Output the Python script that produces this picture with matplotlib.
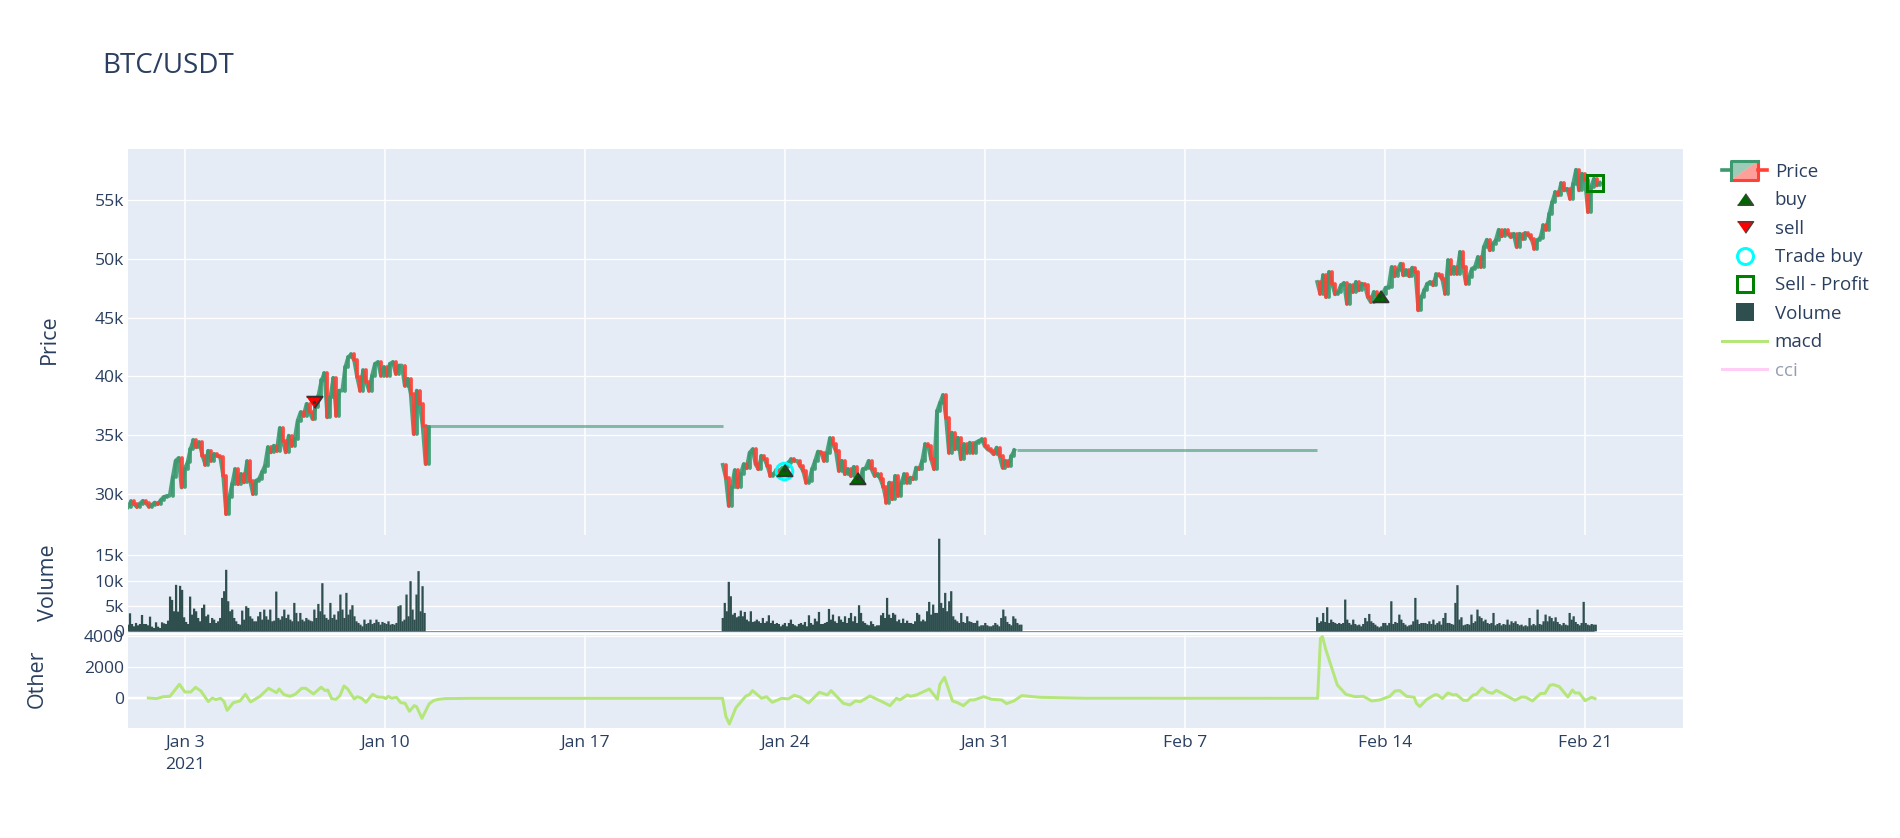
import numpy as np
import pandas as pd
import matplotlib
matplotlib.use("Agg")
import matplotlib.pyplot as plt
from matplotlib.legend_handler import HandlerBase
from matplotlib.lines import Line2D
from matplotlib.patches import Patch, Polygon

plt.rcParams['font.family'] = ['Open Sans', 'DejaVu Sans']

# closing prices, one every 2.5 hours
close_a = [28900, 29380, 29150, 28920, 29200, 29430, 29260, 28950, 29090, 29290, 29150, 29490, 29770, 29830, 29860,
           31420, 32840, 33070, 30570, 32130, 32700, 33830, 34600, 33980, 34400, 33270, 32500, 33690, 32840, 33410,
           33270, 33120, 31560, 28300, 29720, 30850, 32130, 30850, 31700, 31000, 32780, 31140, 30000, 31140, 31280,
           31850, 32410, 33980, 33550, 34120, 33690, 35620, 34540, 33550, 34970, 34120, 34690, 36250, 36960, 36670,
           37670, 36960, 36390, 37380, 38380, 39660, 40280, 36530, 38240, 39880, 36670, 38800, 38800, 40790, 41640,
           41870, 41360, 39940, 38800, 40510, 39510, 38800, 40080, 41080, 41220, 40080, 40790, 40080, 41080, 41220,
           40220, 40930, 40930, 39230, 39800, 38520, 35110, 38800, 37670, 35820, 32560, 35680]
close_b = [32490, 31410, 29010, 30570, 32030, 30570, 31700, 32540, 32200, 33530, 33810, 32540, 32120, 33250, 32970,
           32400, 31550, 31700, 32030, 31980, 32200, 32320, 32680, 32970, 32830, 32830, 32400, 31980, 30990, 31130,
           32120, 32830, 33620, 33530, 32830, 33530, 34750, 34240, 33670, 31980, 32830, 31700, 32120, 31550, 32320,
           30990, 30990, 32120, 32200, 32830, 32120, 31550, 31700, 31270, 30570, 29290, 30990, 29580, 31550, 29860,
           30990, 31700, 30990, 31410, 31270, 32260, 32120, 32830, 34240, 34100, 32970, 32120, 37060, 37770, 38420,
           36500, 33530, 35230, 33810, 34800, 32970, 34240, 33530, 34380, 33530, 34380, 34520, 34660, 34100, 33810,
           33670, 33390, 33960, 33250, 32260, 32830, 32400, 33250, 33730]
close_c = [48030, 47040, 48590, 46750, 48880, 47890, 46980, 47180, 47750, 47940, 46190, 47750, 47180, 48030, 47320,
           47890, 47750, 46750, 46330, 47180, 46900, 46750, 47040, 47550, 47600, 49300, 48510, 49020, 49580, 48590,
           49020, 48510, 49250, 48880, 45620, 46750, 47320, 47890, 48030, 47750, 48680, 48590, 48310, 47040, 49870,
           48740, 49300, 48740, 50580, 49300, 47890, 48450, 49160, 49300, 50150, 49300, 51000, 51620, 50720, 51280,
           51570, 52470, 51910, 52410, 52130, 51850, 52130, 51000, 52130, 51710, 52190, 51990, 51710, 50860, 51570,
           51790, 52840, 52470, 53830, 54820, 55670, 55390, 56430, 55810, 55950, 55100, 56380, 57570, 55810, 57230,
           56660, 53970, 56090, 56800, 56230, 56460]
start_a, start_b, start_c = '2021-01-01 00:00', '2021-01-21 19:40', '2021-02-11 15:00'
flat_a, flat_a_from, flat_a_to = 35750, '2021-01-11 08:30', '2021-01-21 19:40'
flat_b, flat_b_from, flat_b_to = 33730, '2021-02-01 02:30', '2021-02-11 15:00'

# volume, one bar every 101 minutes
vol_a = [1320, 3560, 1450, 990, 1650, 1190, 1450, 3230, 1450, 1450, 1190, 2900, 920, 660, 1780, 920, 660, 1780, 1580,
         1450, 2110, 6860, 6200, 3960, 9170, 3890, 8980, 8180, 2770, 1850, 1450, 6860, 3300, 4490, 3960, 2640, 1980,
         4620, 5280, 2970, 3300, 1650, 2640, 2310, 1650, 1980, 2640, 6600, 7920, 12140, 5940, 3960, 4290, 2640, 1980,
         1450, 1320, 4090, 2310, 4950, 4620, 2970, 2510, 1980, 1980, 2970, 3830, 2310, 4290, 2970, 2310, 4290, 1980,
         2110, 7850, 2640, 2310, 2970, 4290, 2640, 3300, 2310, 1980, 5610, 3630, 1980, 3630, 2310, 1980, 2640, 2310,
         2110, 1980, 4290, 2640, 5410, 3960, 9500, 3300, 2640, 2310, 5610, 2640, 3300, 2310, 3960, 7260, 4290, 2640,
         7590, 3300, 4290, 5150, 2970, 1980, 1650, 1320, 990, 2310, 1450, 1650, 2310, 1450, 1650, 2310, 1850, 1320,
         1850, 1650, 1450, 1980, 1320, 1450, 1320, 1650, 4950, 5150, 1980, 2310, 7260, 2970, 9900, 4290, 2310, 7260,
         11880, 3960, 8910, 3630]
vol_b = [2640, 5610, 3960, 9770, 6930, 3300, 3630, 2770, 2970, 4090, 2970, 3830, 2310, 1980, 3960, 1850, 1980, 2310,
         1980, 1650, 2640, 1650, 1980, 3170, 1650, 2110, 1450, 1650, 1450, 990, 1320, 1650, 990, 1650, 2310, 1450,
         1190, 990, 1450, 1650, 1320, 1850, 990, 3170, 1650, 1320, 2510, 1980, 3830, 1450, 1450, 1650, 1850, 4420,
         2310, 3300, 1980, 1650, 2970, 2310, 1850, 2970, 1650, 2640, 3630, 1980, 2970, 1650, 5150, 3630, 1980, 1650,
         1320, 1190, 1980, 1450, 990, 1190, 1190, 3170, 3630, 2640, 6600, 3300, 2640, 3630, 3300, 1980, 2310, 1650,
         2510, 1650, 2110, 1650, 1650, 1450, 1980, 3630, 3300, 1980, 2310, 1980, 3960, 5810, 3300, 5280, 3630, 3630,
         18280, 5610, 4620, 7590, 3960, 5940, 7920, 2970, 2310, 1980, 1650, 3630, 1850, 1650, 2970, 1980, 1850, 1650,
         1650, 2110, 990, 1190, 1190, 1650, 1190, 990, 990, 1190, 1650, 1320, 990, 2640, 4290, 2970, 1850, 1450, 1190,
         2970, 2510, 1650, 1320, 1320]
vol_c = [2770, 1650, 1980, 3630, 1850, 4750, 1650, 2310, 1850, 1650, 1450, 1650, 1450, 1650, 6270, 2310, 1650, 1320,
         2310, 1450, 1190, 1320, 990, 1450, 2640, 1980, 3430, 1980, 1650, 1320, 990, 790, 990, 1650, 1650, 1190, 1650,
         5940, 1450, 1850, 1650, 3300, 2310, 1650, 1320, 990, 1190, 1320, 1980, 6600, 2310, 1450, 1650, 1650, 1650,
         1450, 1980, 1450, 2310, 1320, 1650, 1980, 1320, 2640, 3630, 1650, 1650, 1450, 1320, 5610, 9110, 2310, 2770,
         1190, 1320, 1450, 1320, 3300, 1650, 1980, 4290, 2970, 2640, 1980, 2310, 1650, 1450, 1650, 3630, 1190, 1450,
         1650, 1190, 1450, 1320, 2310, 1320, 1980, 1650, 1980, 1450, 1190, 1320, 990, 1190, 990, 2640, 1190, 1450,
         1190, 4290, 1450, 1320, 1980, 3300, 1980, 2970, 2640, 1980, 2770, 1850, 1450, 1190, 1650, 1320, 1190, 3630,
         2310, 2970, 1850, 1450, 1190, 1650, 5810, 1650, 1320, 1190, 1450, 1320, 1320]

# macd, days after 1 Jan
macd_days = [0.71, 1.00, 1.24, 1.47, 1.80, 1.99, 2.20, 2.36, 2.55, 2.81, 2.95, 3.07, 3.24, 3.36, 3.47, 3.69, 3.92,
             4.11, 4.29, 4.62, 4.92, 5.20, 5.29, 5.46, 5.67, 5.85, 6.08, 6.22, 6.49, 6.76, 6.90, 6.99, 7.13, 7.28,
             7.42, 7.56, 7.69, 7.92, 8.03, 8.18, 8.33, 8.56, 8.73, 8.94, 9.02, 9.11, 9.23, 9.40, 9.54, 9.70, 9.85,
             10.02, 10.10, 10.29, 10.54, 10.69, 10.86, 11.10, 12.00, 20.81, 20.93, 21.05, 21.28, 21.63, 21.75, 21.86,
             22.18, 22.35, 22.55, 22.88, 23.11, 23.32, 23.52, 23.82, 24.20, 24.48, 24.61, 25.04, 25.27, 25.46, 25.64,
             25.97, 26.44, 26.67, 26.90, 27.02, 27.28, 27.39, 27.60, 28.05, 28.33, 28.42, 28.58, 28.86, 29.03, 29.24,
             29.47, 29.61, 29.96, 30.23, 30.58, 30.75, 31.01, 31.28, 31.92, 32.50, 33.50, 41.64, 41.74, 41.81, 41.93,
             42.33, 42.63, 42.95, 43.24, 43.53, 43.82, 44.17, 44.35, 44.52, 44.75, 45.02, 45.10, 45.22, 45.45, 45.75,
             45.84, 46.01, 46.20, 46.39, 46.50, 46.74, 46.89, 47.09, 47.20, 47.40, 47.61, 47.76, 47.90, 48.55, 48.78,
             48.93, 49.16, 49.44, 49.60, 49.77, 49.89, 50.10, 50.40, 50.56, 50.65, 50.80, 51.00, 51.23, 51.35]
macd_vals = [20, -20, 105, 130, 895, 405, 405, 700, 470, -210, 20, -85, 0, -210, -770, -275, -170, 255, -235, 130, 640,
             360, 595, 235, 130, 255, 640, 640, 280, 705, 490, 530, -20, -65, 170, 790, 595, -40, 105, 0, -255, 255,
             85, 65, -20, 130, 0, 65, -275, -320, -830, -470, -530, -1280, -360, -150, -65, -20, 0, 0, -1170, -1640,
             -600, 150, 235, 490, 0, 105, -255, 0, -40, 190, 85, -300, 385, 215, 490, -320, -425, -170, -210, 150,
             -255, -470, 0, -105, 215, 130, 215, 595, -65, 895, 1340, -170, -275, -470, -105, -105, 105, -65, -105,
             -340, -170, 170, 65, 40, 5, 0, 3830, 3940, 3090, 850, 255, 105, 130, -170, -105, 130, 470, 490, 130, 65,
             -320, -530, -85, 235, 215, -20, 340, 215, 235, -130, -130, 215, 255, 660, 385, 320, 510, -130, 85, 65,
             -170, 300, 320, 830, 875, 745, 85, 530, 340, 340, -150, 65, -20]

# trade markers
buy_times = ['2021-01-23 23:00', '2021-01-26 12:30', '2021-02-13 19:30']
buy_prices = [32030, 31410, 46810]
sell_times = ['2021-01-07 12:15']
sell_prices = [37870]
trade_buy_times = ['2021-01-23 23:00']
trade_buy_prices = [31980]
profit_times = ['2021-02-21 08:40']
profit_prices = [56460]

price_ticks = [30000, 35000, 40000, 45000, 50000, 55000]
price_labels = ['30k', '35k', '40k', '45k', '50k', '55k']
vol_ticks = [0, 5000, 10000, 15000]
vol_labels = ['0', '5k', '10k', '15k']
other_ticks = [0, 2000, 4000]
other_labels = ['0', '2000', '4000']
date_ticks = ['2021-01-03', '2021-01-10', '2021-01-17', '2021-01-24', '2021-01-31', '2021-02-07', '2021-02-14', '2021-02-21']
date_labels = ['Jan 3\n2021', 'Jan 10', 'Jan 17', 'Jan 24', 'Jan 31', 'Feb 7', 'Feb 14', 'Feb 21']

W, H = 1900, 838
TXT = '#2a3f5f'
BG = '#e5ecf6'
GREEN = '#3d9970'
RED = '#ff4136'
SLATE = '#2f4f4f'
px = 0.72  # points per pixel at dpi 100
TRI_UP = [(-1, -0.72), (1, -0.72), (0, 0.72)]
TRI_DOWN = [(-1, 0.72), (1, 0.72), (0, -0.72)]


def panel(top, bottom):
    return fig.add_axes([128 / W, 1 - bottom / H, (1683 - 128) / W, (bottom - top) / H], facecolor=BG)


def candles(ax, start, closes):
    closes = np.array(closes, dtype=float)
    opens = np.r_[closes[0], closes[:-1]]
    x = pd.date_range(start, periods=len(closes), freq='150min')
    cols = [GREEN if c >= o else RED for o, c in zip(opens, closes)]
    # the hourly candles merge into a thick band at this width
    ax.plot(x, closes, color=GREEN, lw=3.8 * px, alpha=0.9, zorder=2.8, solid_joinstyle='round')
    ax.vlines(x, opens, closes, colors=cols, lw=3.8 * px, alpha=0.92, zorder=3, capstyle='round')


class PriceHandler(HandlerBase):
    def create_artists(self, legend, orig, xd, yd, w, h, fs, trans):
        m = yd + h / 2
        a, b = xd + w * 0.2, xd + w * 0.8
        t, u = m + 7, m - 7
        arts = [Line2D([xd, a], [m, m], color=GREEN, lw=2.6),
                Line2D([b, xd + w], [m, m], color=RED, lw=2.6),
                Polygon([[a, u], [b, u], [b, t]], fc=RED, ec=RED, alpha=0.5, lw=0),
                Polygon([[a, u], [a, t], [b, t]], fc=GREEN, ec=GREEN, alpha=0.5, lw=0),
                Line2D([a, b, b], [u, u, t], color=RED, lw=2.2),
                Line2D([a, a, b], [u, t, t], color=GREEN, lw=2.2)]
        for art in arts:
            art.set_transform(trans)
        return arts


fig = plt.figure(figsize=(W / 100, H / 100), dpi=100, facecolor='white')
ax1 = panel(149, 535)
ax2 = panel(535, 632.5)
ax3 = panel(635, 728)

xmin, xmax = pd.Timestamp('2021-01-01'), pd.Timestamp('2021-01-01') + pd.Timedelta(days=54.43)
for ax in (ax1, ax2, ax3):
    ax.set_xlim(xmin, xmax)
    ax.set_axisbelow(True)
    for s in ax.spines.values():
        s.set_visible(False)
    ax.tick_params(length=0, labelsize=12.6, labelcolor=TXT, pad=3)
    ax.set_xticks(pd.to_datetime(date_ticks))
    ax.set_xticklabels([])
    ax.grid(True, axis='y', color='white', lw=1.3 * px)
ax1.grid(True, axis='x', color='white', lw=1.5 * px)
ax3.grid(True, axis='x', color='white', lw=1.5 * px)

# price
ax1.set_ylim(26530, 59330)
ax1.set_yticks(price_ticks)
ax1.set_yticklabels(price_labels)
candles(ax1, start_a, close_a)
candles(ax1, start_b, close_b)
candles(ax1, start_c, close_c)
ax1.hlines(flat_a, pd.Timestamp(flat_a_from), pd.Timestamp(flat_a_to), color=GREEN, lw=3 * px, alpha=0.6, zorder=3)
ax1.hlines(flat_b, pd.Timestamp(flat_b_from), pd.Timestamp(flat_b_to), color=GREEN, lw=3 * px, alpha=0.6, zorder=3)

ax1.plot(pd.to_datetime(trade_buy_times), trade_buy_prices, 'o', mfc='none', mec='cyan', ms=16.5 * px, mew=3 * px, zorder=5)
ax1.plot(pd.to_datetime(profit_times), profit_prices, 's', mfc='none', mec='green', ms=16 * px, mew=3 * px, zorder=5)
ax1.plot(pd.to_datetime(buy_times), buy_prices, marker=TRI_UP, ls='none', mfc='darkgreen', mec='#333333', ms=16 * px, mew=2 * px, zorder=6)
ax1.plot(pd.to_datetime(sell_times), sell_prices, marker=TRI_DOWN, ls='none', mfc='red', mec='#333333', ms=16 * px, mew=2 * px, zorder=6)
ax1.plot(pd.to_datetime(buy_times + sell_times), buy_prices + sell_prices, '.', color='#333333', ms=3, zorder=7)

# volume
ax2.set_ylim(-230, 19010)
ax2.set_yticks(vol_ticks)
ax2.set_yticklabels(vol_labels)
for start, vols in ((start_a, vol_a), (start_b, vol_b), (start_c, vol_c)):
    xs = pd.date_range(start, periods=len(vols), freq='101min')
    ax2.bar(xs, vols, width=1.9 / 24, color=SLATE, lw=0, zorder=3, snap=False)
ax2.axhline(0, color='white', lw=2 * px, zorder=2)
ax2.hlines(0, xmin, pd.Timestamp(start_c) + pd.Timedelta(days=9.7), color='#7f9a94', lw=1 * px, zorder=2.5)

# other
ax3.set_ylim(-1898, 4045)
ax3.set_yticks(other_ticks)
ax3.set_yticklabels(other_labels)
ax3.axhline(0, color='white', lw=2.5 * px, zorder=2)
ax3.plot(xmin + pd.to_timedelta(macd_days, unit='D'), macd_vals, color='#b5e67a', lw=3 * px, zorder=3,
         solid_joinstyle='round')
ax3.set_xticklabels(date_labels, linespacing=1.5, color=TXT)
ax3.tick_params(axis='x', pad=5)

# titles
fig.text(102 / W, 1 - 66 / H, 'BTC/USDT', color=TXT, fontsize=20, va='center', ha='left')
for label, xp, yp in (('Price', 49, 339), ('Volume', 49, 583), ('Other', 37, 679)):
    fig.text(xp / W, 1 - yp / H, label, color=TXT, fontsize=15.5, rotation=90, va='center', ha='center')

# legend
handles = [Patch(label='Price'),
           Line2D([], [], ls='none', marker=TRI_UP, mfc='darkgreen', mec='#444444', ms=16 * px, mew=1.5 * px, label='buy'),
           Line2D([], [], ls='none', marker=TRI_DOWN, mfc='red', mec='#444444', ms=16 * px, mew=1.5 * px, label='sell'),
           Line2D([], [], ls='none', marker='o', mfc='none', mec='cyan', ms=16 * px, mew=3 * px, label='Trade buy'),
           Line2D([], [], ls='none', marker='s', mfc='none', mec='green', ms=16 * px, mew=3 * px, label='Sell - Profit'),
           Line2D([], [], ls='none', marker='s', mfc=SLATE, mec=SLATE, ms=18 * px, mew=0, label='Volume'),
           Line2D([], [], color='#b5e67a', lw=3 * px, label='macd'),
           Line2D([], [], color='#ffcdf6', lw=3 * px, label='cci')]
leg = fig.legend(handles=handles, loc='upper left', bbox_to_anchor=(1722 / W, 1 - 163 / H), frameon=False,
                 fontsize=13.5, labelcolor=TXT, handlelength=2.4, handletextpad=0.42, labelspacing=0.553,
                 borderpad=0, borderaxespad=0, handler_map={handles[0]: PriceHandler()})
leg.get_texts()[-1].set_alpha(0.5)

fig.savefig('out.png', dpi=100)
